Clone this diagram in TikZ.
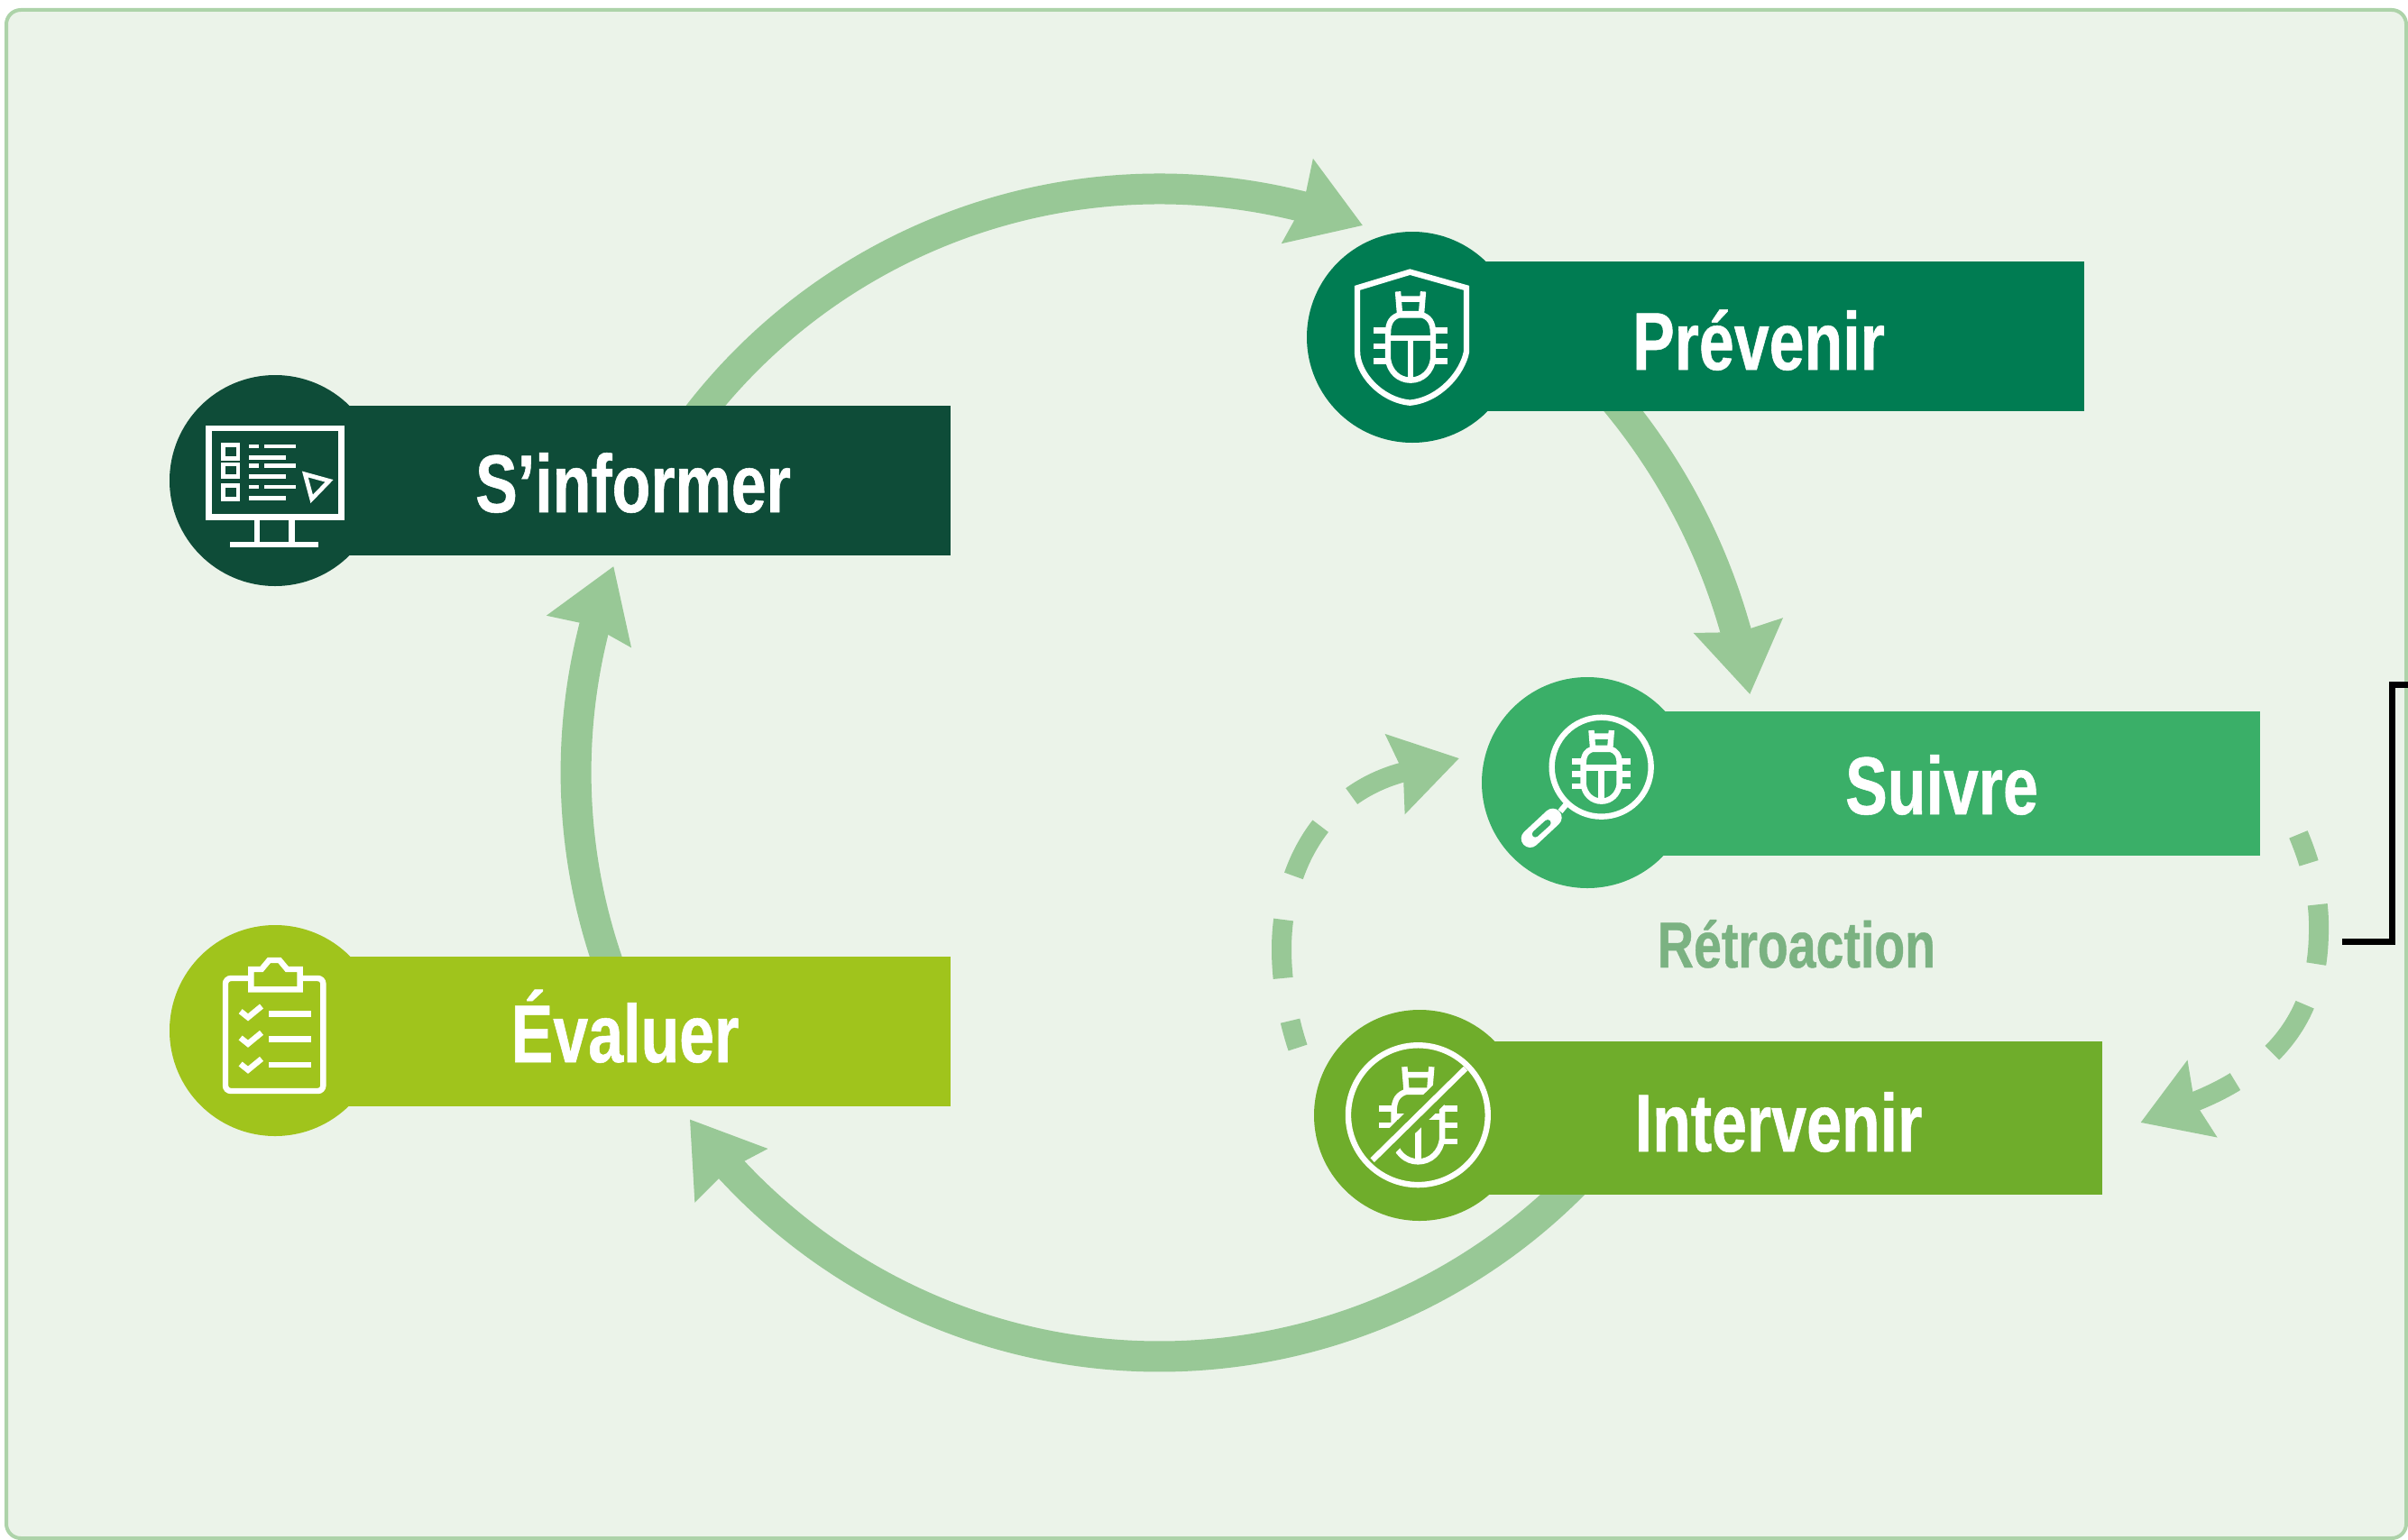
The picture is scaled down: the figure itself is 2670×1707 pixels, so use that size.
\documentclass[tikz,border=0pt]{standalone}
\usepackage{fontspec}
\usetikzlibrary{arrows.meta,calc}
\newfontfamily\labfont[FakeStretch=0.77,FakeBold=0.6]{Liberation Sans}
\definecolor{panelbg}{HTML}{EBF3E9}
\definecolor{paneledge}{HTML}{ADD3A9}
\definecolor{flowgreen}{HTML}{98C896}
\definecolor{retro}{HTML}{7BB282}
\definecolor{cinform}{HTML}{0E4C38}
\definecolor{cprev}{HTML}{007C52}
\definecolor{csuiv}{HTML}{3AAF68}
\definecolor{cinterv}{HTML}{6FAD2B}
\definecolor{ceval}{HTML}{A0C41C}
\pgfdeclarelayer{panel}
\pgfdeclarelayer{flows}
\pgfsetlayers{panel,flows,main}
\tikzset{
  disc/.style={circle,fill=#1,draw=none,inner sep=0pt,minimum size=117pt},
  barbox/.style={rectangle,fill=#1,draw=none,inner sep=0pt,minimum height=83pt},
  lab/.style={text=white,anchor=base,inner sep=0pt,font=\labfont\bfseries\fontsize{45.4}{50}\selectfont},
  retrolab/.style={text=retro,anchor=base,inner sep=0pt,font=\labfont\bfseries\fontsize{36}{40}\selectfont},
  flow/.style={draw=flowgreen,line width=17pt,-{Stealth[length=38pt,width=48pt,inset=3pt]}},
  feedback/.style={draw=flowgreen,line width=11pt,-{Stealth[length=36pt,width=44pt,inset=4pt]}},
  iconline/.style={draw=white,line width=3.2pt,line join=miter,fill=none},
  thinline/.style={draw=white,line width=2.4pt},
  zoomed/.style={shift={#1},x=0.166667pt,y=-0.166667pt},
  bug/.pic={
    \draw[iconline] (-42,-150)--(-36,-76) (42,-150)--(36,-76) (-40,-125)--(40,-125) (-38,-76)--(38,-76);
    \draw[iconline] (-38,-72) .. controls (-60,-65) and (-75,-50) .. (-75,-10) -- (-75,75) .. controls (-70,115) and (-40,145) .. (0,145) .. controls (40,145) and (70,115) .. (75,75) -- (75,-10) .. controls (75,-50) and (60,-65) .. (38,-72) -- cycle;
    \draw[iconline] (-75,5)--(75,5) (0,5)--(0,145);
    \draw[iconline] (-122,-20)--(-75,-20) (-122,32)--(-75,32) (-122,82)--(-75,82)
                    (75,-20)--(122,-20) (75,32)--(122,32) (75,82)--(122,82);
  }
}
\begin{document}
\begin{tikzpicture}[x=0.5pt,y=0.5pt]
\useasboundingbox (0,0) rectangle (2670,-1707);
\begin{pgfonlayer}{panel}
\fill[white] (0,0) rectangle (2670,-1707);
\draw[fill=panelbg,draw=paneledge,line width=2pt,rounded corners=8pt] (7,-11) rectangle (2668,-1706);
\end{pgfonlayer}

% bars and discs
\node[barbox=cinform,minimum width=374.5pt] (informbar) at (679.5,-532.5) {};
\node[barbox=cprev,minimum width=372.5pt] (prevbar) at (1938.5,-373) {};
\node[barbox=csuiv,minimum width=373pt,minimum height=80pt] (suivbar) at (2133,-869) {};
\node[barbox=cinterv,minimum width=378.5pt,minimum height=85pt] (intervbar) at (1952.5,-1240) {};
\node[barbox=ceval,minimum width=374.5pt] (evalbar) at (679.5,-1143.5) {};

\node[disc=cinform] (informdisc) at (305,-533) {};
\node[disc=cprev] (prevdisc) at (1566,-374) {};
\node[disc=csuiv] (suivdisc) at (1760,-868) {};
\node[disc=cinterv] (intervdisc) at (1574,-1237) {};
\node[disc=ceval] (evaldisc) at (305,-1143) {};

\begin{pgfonlayer}{flows}
\draw[flow] ($(informbar.north west)+(467.7,-13.5)$) arc (142.5:77.6:647) arc (77.6:69.6:647);
\draw[flow] ($(prevbar.south west)+(226,11)$) arc (39.6:17.1:690) arc (17.1:9.6:690);
\draw[flow] ($(intervbar.south west)+(177.4,18.5)$) arc (-44:-135.6:647) arc (-135.6:-143.6:647);
\draw[flow] ($(evalbar.north west)+(373,-17.8)$) arc (200:167.3:647) arc (167.3:159.3:647);

\draw[feedback,dash pattern=on 17pt off 23.5pt on 33pt off 23.5pt on 32.5pt off 26pt on 200pt]
  ($(suivbar.south east)+(42,24)$) .. controls (2565,-965) and (2572,-1000) .. (2571,-1035)
  .. controls (2570,-1090) and (2555,-1175) .. ($(intervbar.east)+(42,-5)$);
\draw[feedback,dash pattern=on 15.5pt off 24pt on 32.5pt off 25pt on 31.5pt off 24pt on 200pt]
  ($(intervdisc.center)+(-135,75)$) .. controls (1425,-1120) and (1421,-1080) .. (1421,-1053)
  .. controls (1421,-970) and (1460,-880) .. ($(suivdisc.center)+(-142,27)$);
\end{pgfonlayer}

% labels
\node[lab] (t1) at (702,-568) {S’informer};
\node[lab] (t2) at (1950,-410) {Prévenir};
\node[lab] (t3) at (2153,-903) {Suivre};
\node[lab] (t4) at (693,-1178) {Évaluer};
\node[lab] (t5) at (1972,-1277) {Intervenir};
\node[retrolab] (t6) at (1992,-1073) {Rétroaction};

% side bracket
\coordinate (bracketa) at (2597,-1044);
\coordinate (bracketb) at (2670,-759);
\draw[black,line width=3.5pt] (bracketa) -| (2652,-759) -- (bracketb);

% monitor icon
\begin{scope}[zoomed={(170,-400)}]
  \draw[iconline] (185,225) rectangle (625,520);
  \draw[iconline] (345,520)--(345,610) (460,520)--(460,610) (255,612)--(550,612);
  \draw[thinline] (232,280) rectangle (282,325) (232,345) rectangle (282,385) (232,415) rectangle (282,460);
  \draw[thinline] (318,285)--(350,285) (370,285)--(475,285) (318,322)--(440,322)
                  (318,350)--(350,350) (370,350)--(475,350) (318,385)--(440,385)
                  (318,420)--(350,420) (370,420)--(475,420) (318,458)--(440,458);
  \draw[thinline] (505,378)--(585,400)--(527,460)--cycle;
\end{scope}

% shield icon
\begin{scope}[zoomed={(1430,-240)}]
  \draw[iconline] (400,185)--(588,238)--(588,450) .. controls (575,520) and (500,610) .. (400,620) .. controls (300,610) and (225,520) .. (225,450) -- (225,238) -- cycle;
  \pic at (402,400) {bug};
\end{scope}

% magnifier icon
\begin{scope}[zoomed={(1630,-730)}]
  \draw[iconline] (437,362) circle[radius=27.5pt];
  \draw[iconline] (300,510)--(325,480);
  \draw[white,line width=10pt,line cap=round] (275,530)--(200,600);
  \draw[csuiv,line width=3.6pt,line cap=round] (258,548)--(217,585);
  \pic[scale=0.8] at (437,360) {bug};
\end{scope}

% barred bug icon
\begin{scope}[zoomed={(1440,-1100)}]
  \pic[scale=1.07] at (397,410) {bug};
  \draw[cinterv,line width=12pt] (245,560)--(555,255);
  \draw[iconline] (245,560)--(555,255);
  \draw[iconline] (397,410) circle[radius=38.7pt];
\end{scope}

% clipboard icon
\begin{scope}[zoomed={(170,-1010)}]
  \draw[iconline,rounded corners=3pt] (325,225)--(240,225)--(240,600)--(565,600)--(565,225)--(488,225);
  \draw[iconline] (325,262)--(325,195)--(360,195)--(385,165)--(420,165)--(445,195)--(488,195)--(488,262)--cycle;
  \draw[iconline] (290,335)--(315,355)--(360,318) (290,423)--(315,443)--(360,406) (290,510)--(315,530)--(360,493);
  \draw[iconline] (385,343)--(525,343) (385,428)--(525,428) (385,513)--(525,513);
\end{scope}
\end{tikzpicture}
\end{document}
